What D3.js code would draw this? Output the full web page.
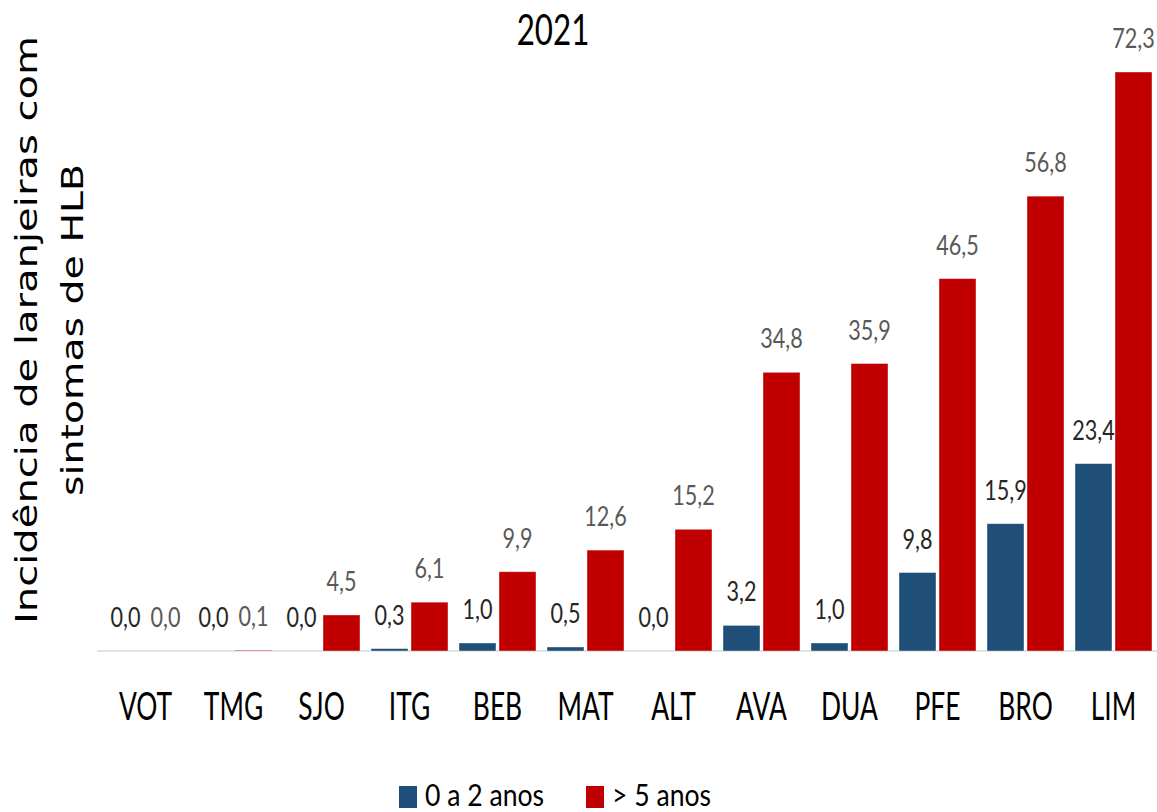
<!DOCTYPE html>
<html>
<head>
<meta charset="utf-8">
<script src="https://cdn.jsdelivr.net/npm/d3@7"></script>
<style>
  html, body { margin: 0; padding: 0; background: #fff; }
  svg { display: block; }
</style>
</head>
<body>
<svg id="chart" width="1157" height="812"></svg>
<script>
// ---- data ----
const title = "2021";
const categories = ["VOT","TMG","SJO","ITG","BEB","MAT","ALT","AVA","DUA","PFE","BRO","LIM"];
const seriesNames = ["0 a 2 anos", "> 5 anos"];
const young = [0.0, 0.0, 0.0, 0.3, 1.0, 0.5, 0.0, 3.2, 1.0, 9.8, 15.9, 23.4];
const old   = [0.0, 0.1, 4.5, 6.1, 9.9, 12.6, 15.2, 34.8, 35.9, 46.5, 56.8, 72.3];
const yTitleLines = ["Incidência de laranjeiras com", "sintomas de HLB"];

// ---- styles ----
const colors = ["#1F4E79", "#C00000"];
const labelColors = ["#262626", "#595959"];
const FONT = "Lato, 'Open Sans', sans-serif";

const svg = d3.select("#chart");

const rows = categories.map((c, i) => ({ cat: c, vals: [young[i], old[i]] }));

const x0 = d3.scaleBand().domain(categories).range([101.5, 1157.5]).padding(0);
const x1 = d3.scaleBand().domain([0, 1]).range([5.5, x0.bandwidth() - 5.5]).paddingInner(0.075);
const y = d3.scaleLinear().domain([0, 72.3]).range([651, 72]);

const fmt = v => d3.format(".1f")(v).replace(".", ",");

// title
svg.append("text")
  .attr("transform", `translate(553,45) scale(0.87,1.16)`)
  .attr("text-anchor", "middle")
  .style("font-family", FONT).style("font-size", "36px").style("fill", "#000")
  .text(title);

// y axis title
const yt = svg.append("g").attr("transform", "translate(0,330)");
yTitleLines.forEach((t, i) => {
  yt.append("text")
    .attr("transform", `translate(${37 + i * 46},0) rotate(-90)`)
    .attr("text-anchor", "middle")
    .attr("textLength", i === 0 ? 588 : 332)
    .attr("lengthAdjust", "spacingAndGlyphs")
    .style("font-family", "'DejaVu Sans', sans-serif").style("font-size", "30px").style("fill", "#000")
    .text(t);
});

// x axis
const xAxis = svg.append("g")
  .attr("transform", `translate(0,${y(0)})`)
  .call(d3.axisBottom(x0).tickSize(0).tickSizeOuter(0));
xAxis.select(".domain").attr("stroke", "#d9d9d9").attr("stroke-width", 1.5)
  .attr("d", "M97,0H1157");
xAxis.selectAll("text")
  .attr("y", null).attr("dy", null)
  .attr("transform", "translate(0,69) scale(0.88,1.26)")
  .style("font-family", FONT).style("font-size", "30px").style("fill", "#000");

// bars
const groups = svg.append("g").selectAll("g")
  .data(rows).join("g")
  .attr("transform", d => `translate(${x0(d.cat)},0)`);

groups.selectAll("rect")
  .data(d => d.vals.map((v, k) => ({ v, k })))
  .join("rect")
  .attr("x", d => x1(d.k))
  .attr("width", x1.bandwidth())
  .attr("y", d => y(d.v))
  .attr("height", d => y(0) - y(d.v))
  .attr("fill", d => colors[d.k])
  .attr("stroke", "#ffffff").attr("stroke-opacity", 0.5).attr("stroke-width", 0.8);

groups.selectAll("text.lbl")
  .data(d => d.vals.map((v, k) => ({ v, k })))
  .join("text")
  .attr("class", "lbl")
  .attr("transform", d => `translate(${x1(d.k) + x1.bandwidth() / 2},${y(d.v) - 24}) scale(0.9,1.16)`)
  .attr("text-anchor", "middle")
  .style("font-family", FONT).style("font-size", "24px")
  .style("fill", d => labelColors[d.k])
  .text(d => fmt(d.v));

// legend
const legendX = [399, 586];
const leg = svg.append("g");
seriesNames.forEach((s, k) => {
  leg.append("rect")
    .attr("x", legendX[k]).attr("y", 786)
    .attr("width", 18).attr("height", 22)
    .attr("fill", colors[k]);
  leg.append("text")
    .attr("transform", `translate(${legendX[k] + 26},806) scale(0.95,1.08)`)
    .style("font-family", FONT).style("font-size", "28px").style("fill", "#000")
    .text(s);
});
</script>
</body>
</html>
